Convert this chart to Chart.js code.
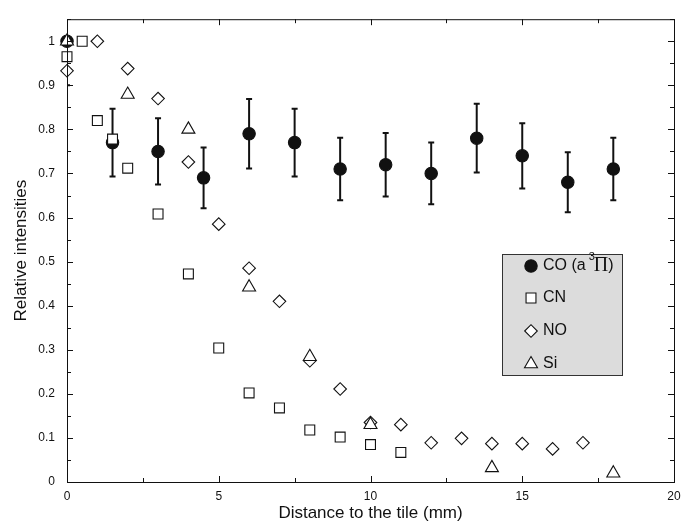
<!DOCTYPE html>
<html>
<head>
<meta charset="utf-8">
<title>Relative intensities vs distance to the tile</title>
<script src="https://cdn.jsdelivr.net/npm/chart.js@4/dist/chart.umd.min.js"></script>
<style>
  html, body { margin: 0; padding: 0; background: #fff; }
</style>
</head>
<body>
<canvas id="intensityChart" width="693" height="525"></canvas>
<script>
// Measured intensities (normalised) against distance to the tile, in mm
const coX   = [0, 1.5, 3, 4.5, 6, 7.5, 9, 10.5, 12, 13.5, 15, 16.5, 18];
const coY   = [1.0, 0.77, 0.75, 0.69, 0.79, 0.77, 0.71, 0.72, 0.70, 0.78, 0.74, 0.68, 0.71];
const coErr = [0.1, 0.077, 0.075, 0.069, 0.079, 0.077, 0.071, 0.072, 0.070, 0.078, 0.074, 0.068, 0.071];

const cnX = [0, 0.5, 1, 1.5, 2, 3, 4, 5, 6, 7, 8, 9, 10, 11];
const cnY = [0.965, 1.0, 0.82, 0.778, 0.712, 0.608, 0.472, 0.304, 0.202, 0.168, 0.118, 0.102, 0.085, 0.067];

const noX = [0, 1, 2, 3, 4, 5, 6, 7, 8, 9, 10, 11, 12, 13, 14, 15, 16, 17];
const noY = [0.933, 1.0, 0.938, 0.87, 0.726, 0.585, 0.485, 0.41, 0.275, 0.211, 0.135, 0.13, 0.089, 0.099, 0.087, 0.087, 0.075, 0.089];

const siX = [0, 2, 4, 6, 8, 10, 14, 18];
const siY = [1.0, 0.879, 0.80, 0.442, 0.284, 0.13, 0.032, 0.02];

const seriesNames = ['CO (a³Π)', 'CN', 'NO', 'Si'];

// Axis ticks: labelled majors plus unlabelled minors
const xTickValues  = [0, 5, 10, 15, 20];
const xMinorValues = [2.5, 7.5, 12.5, 17.5];
const yTickValues  = [0, 0.1, 0.2, 0.3, 0.4, 0.5, 0.6, 0.7, 0.8, 0.9, 1];
const yMinorValues = [0.05, 0.15, 0.25, 0.35, 0.45, 0.55, 0.65, 0.75, 0.85, 0.95, 1.05];

const sans = "'Liberation Sans', Arial, Helvetica, sans-serif";
const ink = '#111';

const toPoints = (xs, ys) => xs.map((x, i) => ({ x, y: ys[i] }));

const markerStyles = [
  { pointStyle: 'circle',    radius: 6.2, fill: ink },
  { pointStyle: 'rect',      radius: 7,   fill: '#fff' },
  { pointStyle: 'rectRot',   radius: 6.3, fill: '#fff' },
  { pointStyle: 'triangle',  radius: 7.5, fill: '#fff' }
];

// 1) Error bars for CO, drawn under the markers and clipped to the plot
const errorBars = {
  id: 'errorBars',
  beforeDatasetsDraw(chart) {
    const { ctx, chartArea: a, scales: { x, y } } = chart;
    ctx.save();
    ctx.beginPath();
    ctx.rect(a.left, a.top, a.right - a.left, a.bottom - a.top);
    ctx.clip();
    ctx.strokeStyle = ink;
    ctx.lineWidth = 2;
    coX.forEach((v, i) => {
      const px = x.getPixelForValue(v);
      const top = y.getPixelForValue(coY[i] + coErr[i]);
      const bot = y.getPixelForValue(coY[i] - coErr[i]);
      ctx.beginPath();
      ctx.moveTo(px, top); ctx.lineTo(px, bot);
      ctx.moveTo(px - 3, top); ctx.lineTo(px + 3, top);
      ctx.moveTo(px - 3, bot); ctx.lineTo(px + 3, bot);
      ctx.stroke();
    });
    ctx.restore();
  }
};

// 2) Box frame with inward ticks on all four sides
const frameTicks = {
  id: 'frameTicks',
  afterDatasetsDraw(chart) {
    const { ctx, chartArea: a, scales: { x, y } } = chart;
    ctx.save();
    ctx.strokeStyle = ink;
    ctx.lineWidth = 1;
    ctx.strokeRect(a.left + 0.5, a.top + 0.5, a.right - a.left, a.bottom - a.top);
    ctx.beginPath();
    const tickX = (v, len) => {
      const px = Math.round(x.getPixelForValue(v)) + 0.5;
      ctx.moveTo(px, a.bottom); ctx.lineTo(px, a.bottom - len);
      ctx.moveTo(px, a.top);    ctx.lineTo(px, a.top + len);
    };
    const tickY = (v, len) => {
      const py = Math.round(y.getPixelForValue(v)) + 0.5;
      ctx.moveTo(a.left, py);  ctx.lineTo(a.left + len, py);
      ctx.moveTo(a.right, py); ctx.lineTo(a.right - len, py);
    };
    xTickValues.forEach(v => tickX(v, 6));
    xMinorValues.forEach(v => tickX(v, 4));
    yTickValues.forEach(v => tickY(v, 6));
    yMinorValues.forEach(v => tickY(v, 4));
    ctx.stroke();
    ctx.restore();
  }
};

// 3) Grey legend box inside the plot
const boxLegend = {
  id: 'boxLegend',
  afterDraw(chart) {
    const ctx = chart.ctx;
    const left = 502, top = 254, w = 120, h = 121;
    const rows = [266, 298, 331, 364];
    ctx.save();
    ctx.fillStyle = '#dcdcdc';
    ctx.fillRect(left, top, w, h);
    ctx.strokeStyle = '#333';
    ctx.lineWidth = 1;
    ctx.strokeRect(left + 0.5, top + 0.5, w, h);

    seriesNames.forEach((name, i) => {
      const m = markerStyles[i];
      ctx.fillStyle = m.fill;
      ctx.strokeStyle = ink;
      ctx.lineWidth = 1.1;
      Chart.helpers.drawPoint(ctx, { pointStyle: m.pointStyle, radius: m.radius, rotation: 0, borderWidth: 1.1 }, 531, rows[i]);

      // label, with the superscript and the Greek capital set apart
      let tx = 543;
      ctx.fillStyle = ink;
      ctx.textBaseline = 'middle';
      name.split(/(³|Π)/).filter(s => s).forEach(part => {
        let dy = 0;
        if (part === '³') {
          part = '3';
          ctx.font = `11px ${sans}`;
          dy = -9;
          tx += 3;
        } else if (part === 'Π') {
          ctx.font = "20px 'Liberation Serif', 'Times New Roman', serif";
          tx -= 1;
        } else {
          ctx.font = `16px ${sans}`;
        }
        ctx.fillText(part, tx, rows[i] + dy);
        tx += ctx.measureText(part).width;
      });
    });
    ctx.restore();
  }
};

// 4) Build the scatter chart
function initChart() {
  const series = [
    toPoints(coX, coY),
    toPoints(cnX, cnY),
    toPoints(noX, noY),
    toPoints(siX, siY)
  ];
  const datasets = series.map((data, i) => ({
    label: seriesNames[i],
    data,
    showLine: false,
    clip: false,
    order: 4 - i,            // CO underneath, Si on top
    pointStyle: markerStyles[i].pointStyle,
    pointRadius: markerStyles[i].radius,
    pointHoverRadius: markerStyles[i].radius,
    pointBackgroundColor: markerStyles[i].fill,
    pointBorderColor: ink,
    pointBorderWidth: 1.1
  }));

  const tickFont = { family: sans, size: 12 };
  const titleFont = { family: sans, size: 17, weight: 'normal' };

  new Chart(document.getElementById('intensityChart'), {
    type: 'scatter',
    data: { datasets },
    options: {
      responsive: false,
      animation: false,
      events: [],
      layout: { padding: { top: 10, right: 19, left: 0, bottom: 0 } },
      plugins: { legend: { display: false }, tooltip: { enabled: false } },
      scales: {
        x: {
          type: 'linear', min: 0, max: 20,
          grid: { display: false, drawTicks: false },
          border: { display: false },
          afterBuildTicks: s => { s.ticks = xTickValues.map(v => ({ value: v })); },
          afterFit: s => { s.height = 43; },
          ticks: { padding: 7, color: ink, font: tickFont, maxRotation: 0, callback: v => String(v) },
          title: { display: true, text: 'Distance to the tile (mm)', color: ink, font: titleFont, padding: { top: 0, bottom: 1 } }
        },
        y: {
          type: 'linear', min: 0, max: 1.05,
          grid: { display: false, drawTicks: false },
          border: { display: false },
          afterBuildTicks: s => { s.ticks = yTickValues.map(v => ({ value: v })); },
          afterFit: s => { s.width = 67; },
          ticks: { padding: 12, color: ink, font: tickFont, callback: v => String(+v.toFixed(2)) },
          title: { display: true, text: 'Relative intensities', color: ink, font: titleFont, padding: { top: 11, bottom: 0 } }
        }
      }
    },
    plugins: [errorBars, frameTicks, boxLegend]
  });
}

window.addEventListener('DOMContentLoaded', initChart);
</script>
</body>
</html>
